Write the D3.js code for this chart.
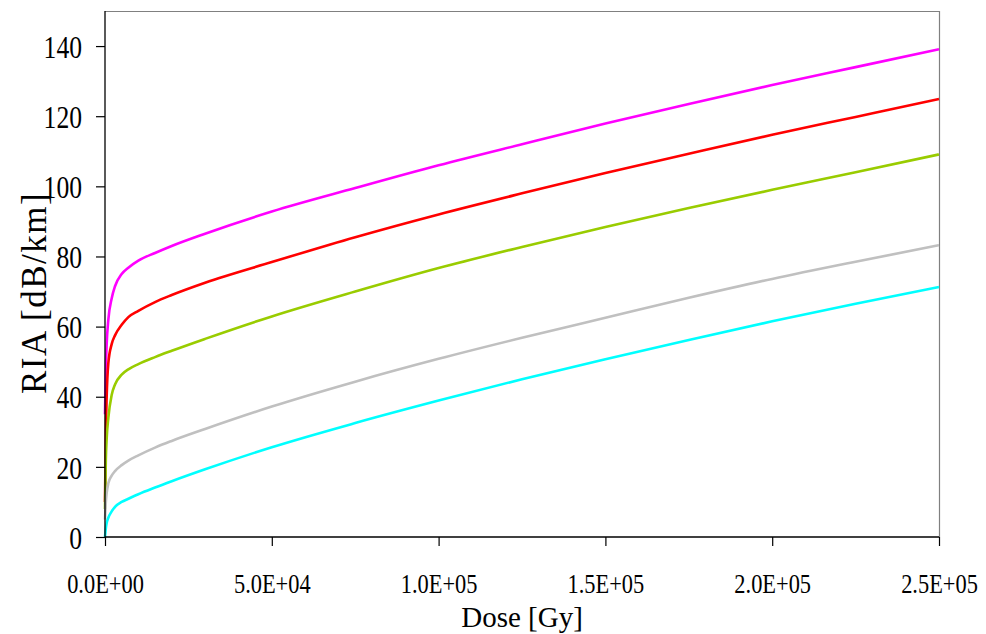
<!DOCTYPE html>
<html>
<head>
<meta charset="utf-8">
<script src="https://cdn.jsdelivr.net/npm/d3@7"></script>
<style>
  html, body { margin: 0; padding: 0; background: #fff; }
  svg { display: block; }
  text { font-family: "Liberation Serif", "DejaVu Serif", serif; fill: #000; }
</style>
</head>
<body>
<svg id="chart" width="986" height="634"></svg>
<script>
// Dose points [Gy] shared by all series
const doses = [0, 250, 500, 1000, 2000, 3000, 5000, 7000, 10000, 15000, 20000, 30000,
  50000, 75000, 100000, 125000, 150000, 175000, 200000, 225000, 250000];

// Radiation-induced attenuation [dB/km] per fibre
const magentaRIA = [35, 48, 55, 62, 68, 71.5, 75, 76.8, 78.8, 81, 83, 86.5,
  92.8, 99.5, 106, 112, 117.9, 123.5, 128.9, 134, 139.1];
const redRIA = [10, 30, 40, 49.6, 55, 57.5, 60.5, 62.7, 64.5, 67, 69, 72.5,
  78.4, 85.5, 92, 98, 103.8, 109.3, 114.7, 119.8, 124.9];
const greenRIA = [8, 22, 28, 34, 40.5, 43.5, 46.3, 47.8, 49.3, 51.3, 53.1, 56.5,
  62.9, 70, 76.7, 82.7, 88.4, 93.8, 99.0, 104, 109.1];
const grayRIA = [5, 10, 12.5, 15.3, 17.5, 18.8, 20.5, 21.8, 23.3, 25.5, 27.4, 30.8,
  37.2, 44.3, 50.8, 56.8, 62.5, 68.2, 73.6, 78.5, 83.2];
const cyanRIA = [0, 2.5, 4, 5.5, 7.3, 8.6, 10, 10.9, 12.2, 14.1, 15.9, 19.3,
  25.6, 32.5, 38.9, 45, 50.7, 56.2, 61.5, 66.5, 71.3];

const seriesValues = [magentaRIA, redRIA, greenRIA, grayRIA, cyanRIA];
const seriesColors = ["#ff00ff", "#ff0000", "#99cc00", "#c0c0c0", "#00ffff"];

const xTicks = [0, 50000, 100000, 150000, 200000, 250000];
const xTickLabels = ["0.0E+00", "5.0E+04", "1.0E+05", "1.5E+05", "2.0E+05", "2.5E+05"];
const yTicks = [0, 20, 40, 60, 80, 100, 120, 140];

const svg = d3.select("#chart");
const plot = { left: 105, right: 939, top: 11, bottom: 537 };

const x = d3.scaleLinear().domain([0, 250000]).range([plot.left, plot.right]);
const y = d3.scaleLinear().domain([0, 150]).range([plot.bottom, plot.top]);

// frame: grey top/right edges
svg.append("path")
  .attr("d", `M${plot.left},${plot.top + 0.5}H${plot.right + 0.5}V${plot.bottom}`)
  .attr("fill", "none").attr("stroke", "#808080").attr("stroke-width", 1.2);

// curves
const line = d3.line()
  .x((d, i) => x(doses[i]))
  .y(d => y(d))
  .curve(d3.curveMonotoneX);

const curves = svg.append("g");
seriesValues.forEach((vals, k) => {
  curves.append("path")
    .datum(vals)
    .attr("d", line)
    .attr("fill", "none")
    .attr("stroke", seriesColors[k])
    .attr("stroke-width", 2.6)
    .attr("stroke-linejoin", "round");
});

// y axis
const yAxis = svg.append("g")
  .attr("transform", `translate(${plot.left},0)`)
  .call(d3.axisLeft(y).tickValues(yTicks).tickSize(9).tickPadding(0).tickFormat(d3.format("d")));
yAxis.select(".domain").attr("d", `M0,${plot.top}V${plot.bottom}`).attr("stroke", "#000").attr("stroke-width", 1.3);
yAxis.selectAll(".tick line").attr("stroke", "#000").attr("stroke-width", 1.2);
yAxis.selectAll(".tick text")
  .attr("font-family", null).attr("font-size", null)
  .style("font-size", "32px")
  .attr("x", 0).attr("dy", "0.35em")
  .attr("text-anchor", "end")
  .attr("transform", "translate(-23,0) scale(0.8,1)");

// x axis
const xAxis = svg.append("g")
  .attr("transform", `translate(0,${plot.bottom})`)
  .call(d3.axisBottom(x).tickValues(xTicks).tickSize(9).tickPadding(0)
    .tickFormat((d, i) => xTickLabels[i]));
xAxis.select(".domain").attr("d", `M${plot.left},0H${plot.right}`).attr("stroke", "#000").attr("stroke-width", 1.3);
xAxis.selectAll(".tick line").attr("stroke", "#000").attr("stroke-width", 1.2);
xAxis.selectAll(".tick text")
  .attr("font-family", null).attr("font-size", null)
  .style("font-size", "28px")
  .attr("y", 0).attr("dy", 0)
  .attr("transform", "translate(0,56) scale(0.8,1)");

// axis titles
svg.append("text")
  .attr("transform", `translate(46,293) rotate(-90)`)
  .attr("text-anchor", "middle")
  .style("font-size", "35px")
  .style("letter-spacing", "1.5px")
  .text("RIA [dB/km]");

svg.append("text")
  .attr("x", 522).attr("y", 627)
  .attr("text-anchor", "middle")
  .style("font-size", "29px")
  .text("Dose [Gy]");
</script>
</body>
</html>
